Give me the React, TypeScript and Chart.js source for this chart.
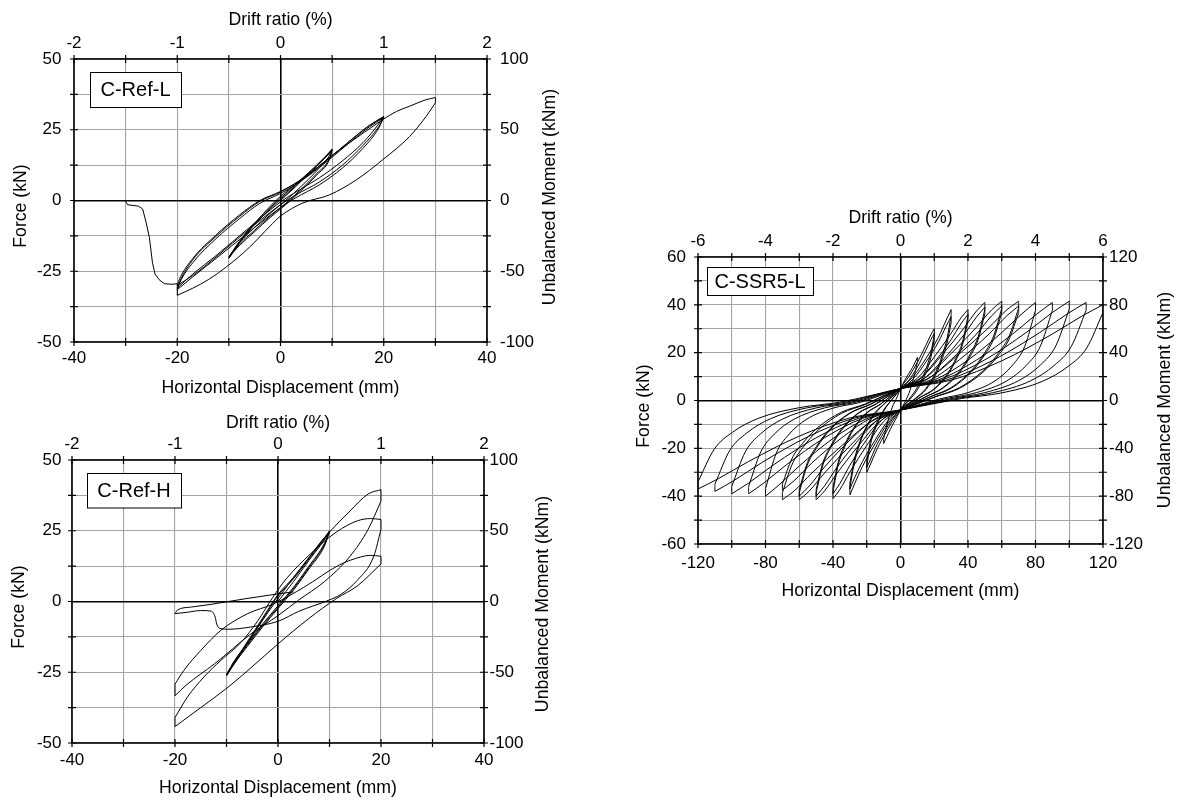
import React, { useEffect, useRef } from "react";
import { Chart, registerables } from "chart.js";

Chart.register(...registerables);

const FONT = '"Liberation Sans", Arial, Helvetica, sans-serif';
Chart.defaults.font.family = FONT;
Chart.defaults.color = "#000";

type Pt = [number, number];

// ---------------- tick labels ----------------
const refDispLabels = [-40, -20, 0, 20, 40];
const refDriftLabels = [-2, -1, 0, 1, 2];
const refForceLabels = [-50, -25, 0, 25, 50];
const refMomentLabels = [-100, -50, 0, 50, 100];
const ssrDispLabels = [-120, -80, -40, 0, 40, 80, 120];
const ssrDriftLabels = [-6, -4, -2, 0, 2, 4, 6];
const ssrForceLabels = [-60, -40, -20, 0, 20, 40, 60];
const ssrMomentLabels = [-120, -80, -40, 0, 40, 80, 120];

// ---------------- C-Ref-L (displacement mm, force kN) ----------------
const refL_c1: Pt[] = [[0,0],[3,5],[6,10.5],[8.5,15],[10,18.2],[9.5,16],[7,10.5],[4,5],[1,0],[-2,-4.5],[-5,-9.5],[-8,-15],[-10,-20]];
const refL_c2: Pt[] = [[-8,-14.5],[-5,-8],[-2,-2.5],[1,2.5],[4,7.5],[7,12.5],[10,18],[9.5,15],[7,9.5],[4,4],[1,-1],[-2,-5.5],[-5,-10.5],[-8,-15.5],[-10,-20.4]];
const refL_c3: Pt[] = [[-8,-15],[-5,-8.5],[-2,-3],[1,2],[4,7],[7,12],[10,17.6],[9.5,14.5],[7,9],[4,3.5],[1,-1.5],[-2,-6],[-5,-11],[-8,-16],[-10,-20]];
const refL_c4: Pt[] = [[-7,-12.5],[-4,-6],[0,1.5],[4.3,7.5],[9.8,15.5],[13.4,21],[17.2,26.5],[20,29.7],[19,27],[16,20.5],[12,14],[7.5,8],[3,3],[0,-0.5],[-6,-9.5],[-12.5,-19.5],[-17,-26],[-20,-31]];
const refL_c5: Pt[] = [[-19.5,-28.5],[-17,-21],[-12.5,-12.7],[-8,-5.7],[-4,-0.3],[0,3],[4.3,7.8],[9.8,15.5],[13.4,21],[17.2,26.5],[20,29.5],[19,25.5],[16,18.5],[12,11.5],[7.5,5.5],[3,1],[0,-2.5],[-6,-11],[-12.5,-20.5],[-17,-27],[-20,-31.5]];
const refL_c6: Pt[] = [[-19.5,-29],[-17,-22],[-12.5,-13.5],[-8,-6.5],[-4,-1],[0,2.5],[4.3,7.3],[9.8,15],[13.4,20.5],[17.2,26],[20,29.3],[19,26],[16,19.5],[12,12.5],[7.5,6.5],[3,2],[0,-1.5],[-6,-10],[-12.5,-20],[-17,-26.5],[-20,-30]];
const refL_c7: Pt[] = [[-19.5,-27.5],[-17,-20.5],[-12.5,-12.2],[-8,-5.2],[-4,0],[0,3.2],[5,8.5],[10,16],[15,22.5],[20,28.8],[22.5,31.5],[25,33.3],[28,35.5],[30,36.4],[30,34.5],[28.2,29.7],[25,22.6],[19.8,14.4],[14.7,7.3],[9.5,2],[4.3,-0.9],[0,-5.5],[-2,-9],[-6,-16.5],[-10.5,-23.5],[-14,-28],[-17,-31],[-20,-33.5]];
const refL_tail: Pt[] = [[-20,-33.5],[-20,-29.4],[-21,-29.6],[-22.5,-29.4],[-23.5,-28],[-24.3,-26],[-24.8,-22],[-25.4,-13],[-26,-8],[-26.7,-3],[-27.5,-2],[-29.6,-1.5],[-30,-0.3]];

// ---------------- C-Ref-H ----------------
const refH_c1: Pt[] = [[0,0],[3,7],[6,14.5],[8.5,20.5],[10,24.5],[9,20],[6,12],[3,4.5],[0,-2],[-3,-8.5],[-6,-15.5],[-8.5,-21.5],[-10,-26]];
const refH_c2: Pt[] = [[-8,-20.5],[-5,-12],[-2,-3.5],[0,2],[3,8],[6,15],[8.5,21],[10,25],[9,20.5],[6,12.5],[3,5],[0,-1.5],[-3,-8],[-6,-15],[-8.5,-21],[-10,-25.8]];
const refH_c3: Pt[] = [[-8,-20],[-5,-11.5],[-2,-3],[0,2.5],[3,8.5],[6,15.5],[8.5,21.5],[10,24.6],[9,19.5],[6,11.5],[3,4],[0,-2.5],[-3,-9],[-6,-16],[-8.5,-22],[-10,-26.2]];
const refH_c4: Pt[] = [[-6,-15],[-2,-4],[2,6],[6,15.5],[10,24.5],[14,32],[17.5,38],[20,39.5],[20,35.5],[17.5,25.5],[14,16],[9,7],[4,0.5],[0,-5],[-5.3,-11.5],[-12.3,-22],[-17.8,-29.5],[-20,-33.3]];
const refH_c5: Pt[] = [[-20,-29.2],[-18.3,-24.4],[-15,-17.3],[-11.1,-10.2],[-5.9,-4.3],[-0.8,-0.8],[5,5],[12,13],[16,15.7],[18,16.3],[20,16],[20,13.3],[15.4,5.5],[11.3,1],[6,-6],[0,-15],[-5.3,-23.5],[-9.5,-30],[-15,-37.5],[-20,-44.2]];
const refH_c6: Pt[] = [[-20,-41],[-17.6,-33.8],[-14.4,-26.7],[-11.1,-20.8],[-7.2,-14.5],[-4,-7],[-1,1.5],[1.6,8],[6.4,17],[11.3,24.5],[15.4,28.5],[18,29.3],[20,29],[20,25.5],[18.6,16],[15.4,7.5],[12.2,2.5],[9.9,0.5],[4,-3.5],[0,-7],[-5.3,-9],[-9.5,-9.8],[-11.3,-9.5],[-11.9,-8],[-12.2,-5.5],[-13,-3.4],[-15,-3.2],[-17.6,-3.8],[-20,-4.3]];
const refH_c7: Pt[] = [[-19.5,-3],[-17,-2],[-13,-1],[-6.6,0.9],[0,2.7],[3,3.4]];

// ---------------- C-SSR5-L ----------------
const ssr10: Pt[] = [[0,5],[3,9],[6,12.5],[8,15],[10,18],[10,16],[8,10],[5,3],[2,-1.5],[0,-4],[-3,-8],[-6,-12],[-8,-15],[-10,-18],[-10,-16],[-8,-10],[-5,-3],[-2,1.5]];
const ssr20a: Pt[] = [[0,5],[5,10],[10,16],[15,23],[18,27.5],[20,30],[20,27.5],[18,20],[15,13],[10,5.5],[5,0.5],[0,-4],[-5,-9],[-10,-15],[-15,-22],[-18,-27],[-20,-30],[-20,-27.5],[-18,-19],[-15,-12],[-10,-4.5],[-5,0.5]];
const ssr20b: Pt[] = [[0,4.5],[5,8.5],[10,14],[15,21],[18,25.5],[20,28],[20,25.5],[18,18],[15,11.5],[10,4.5],[5,0],[0,-3.5],[-5,-8],[-10,-13.5],[-15,-20],[-18,-25],[-20,-28],[-20,-25.5],[-18,-17.5],[-15,-11],[-10,-4],[-5,0.5]];
const ssr30a: Pt[] = [[0,5],[7.5,10],[15,17.5],[22.5,26.5],[27,33.5],[30,38],[30,35.5],[27.6,26],[25,19.5],[21,12],[15,5],[9,1],[0,-4],[-7.5,-9.5],[-15,-18],[-22.5,-27.5],[-27,-34.5],[-30,-39.5],[-30,-36.5],[-27.6,-27],[-25,-20],[-21,-12.5],[-15,-5.5],[-9,-1]];
const ssr30b: Pt[] = [[0,4.5],[7.5,9],[15,16],[22.5,24.5],[27,31],[30,35],[30,32.5],[27.6,24],[25,18],[21,11],[15,4.5],[9,0.8],[0,-3.5],[-7.5,-8.5],[-15,-16.5],[-22.5,-25.5],[-27,-32],[-30,-37],[-30,-34.5],[-27.6,-25.5],[-25,-19],[-21,-12],[-15,-5],[-9,-1]];
const ssr40a: Pt[] = [[0,5],[10,9.3],[20,18.2],[30,28.1],[36,34.7],[40,38],[40,35.3],[36.8,24.7],[33.2,18.2],[28,11.4],[20,4.9],[12,1.5],[0,-4],[-10,-8.8],[-20,-18.8],[-30,-29.9],[-36,-37.3],[-40,-41],[-40,-38.1],[-36.8,-26.7],[-33.2,-19.7],[-28,-12.3],[-20,-5.3],[-12,-1.6]];
const ssr40b: Pt[] = [[0,5],[10,8.1],[20,15.9],[30,25.5],[36,32.3],[40,36],[40,33.5],[36.8,23.4],[33.2,17.3],[28,10.8],[20,4.7],[12,1.4],[0,-4],[-10,-7.5],[-20,-16.3],[-30,-27.1],[-36,-34.8],[-40,-39],[-40,-36.3],[-36.8,-25.4],[-33.2,-18.7],[-28,-11.7],[-20,-5.1],[-12,-1.6]];
const ssr50a: Pt[] = [[0,5],[12.5,9.7],[25,19.4],[37.5,30.2],[45,37.4],[50,41],[50,38.1],[46,26.7],[41.5,19.7],[35,12.3],[25,5.3],[15,1.6],[0,-4],[-12.5,-8.9],[-25,-19],[-37.5,-30.3],[-45,-37.8],[-50,-41.5],[-50,-38.6],[-46,-27],[-41.5,-19.9],[-35,-12.5],[-25,-5.4],[-15,-1.7]];
const ssr50b: Pt[] = [[0,5],[12.5,8.4],[25,16.9],[37.5,27.4],[45,34.9],[50,39],[50,36.3],[46,25.4],[41.5,18.7],[35,11.7],[25,5.1],[15,1.6],[0,-4],[-12.5,-7.6],[-25,-16.6],[-37.5,-27.8],[-45,-35.7],[-50,-40],[-50,-37.2],[-46,-26],[-41.5,-19.2],[-35,-12],[-25,-5.2],[-15,-1.6]];
const ssr60a: Pt[] = [[0,5],[15,9.7],[30,19.6],[45,30.6],[54,37.9],[60,41.5],[60,38.6],[55.2,27],[49.8,19.9],[42,12.5],[30,5.4],[18,1.7],[0,-4],[-15,-8.9],[-30,-19],[-45,-30.3],[-54,-37.8],[-60,-41.5],[-60,-38.6],[-55.2,-27],[-49.8,-19.9],[-42,-12.5],[-30,-5.4],[-18,-1.7]];
const ssr60b: Pt[] = [[0,5],[15,8.5],[30,17.1],[45,27.8],[54,35.4],[60,39.5],[60,36.7],[55.2,25.7],[49.8,19],[42,11.9],[30,5.1],[18,1.6],[0,-4],[-15,-7.6],[-30,-16.6],[-45,-27.8],[-54,-35.7],[-60,-40],[-60,-37.2],[-55.2,-26],[-49.8,-19.2],[-42,-12],[-30,-5.2],[-18,-1.6]];
const ssr70a: Pt[] = [[0,5],[17.5,9.7],[35,19.6],[52.5,30.6],[63,37.9],[70,41.5],[70,38.6],[64.4,27],[58.1,19.9],[49,12.5],[35,5.4],[21,1.7],[0,-4],[-17.5,-8.9],[-35,-19],[-52.5,-30.3],[-63,-37.8],[-70,-41.5],[-70,-38.6],[-64.4,-27],[-58.1,-19.9],[-49,-12.5],[-35,-5.4],[-21,-1.7]];
const ssr70b: Pt[] = [[0,5],[17.5,8.5],[35,17.1],[52.5,27.8],[63,35.4],[70,39.5],[70,36.7],[64.4,25.7],[58.1,19],[49,11.9],[35,5.1],[21,1.6],[0,-4],[-17.5,-7.4],[-35,-15.7],[-52.5,-26.1],[-63,-33.5],[-70,-37.5],[-70,-34.9],[-64.4,-24.4],[-58.1,-18],[-49,-11.3],[-35,-4.9],[-21,-1.5]];
const ssr80: Pt[] = [[0,5],[20,8.6],[40,16.9],[60,28.4],[72,36.3],[80,41],[80,37.7],[73.6,22.6],[66.4,14.8],[56,8.2],[40,3.3],[24,0.8],[0,-4],[-20,-7.6],[-40,-15.9],[-60,-27.4],[-72,-35.3],[-80,-40],[-80,-36.8],[-73.6,-22],[-66.4,-14.4],[-56,-8],[-40,-3.2],[-24,-0.8]];
const ssr90: Pt[] = [[0,5],[22.5,8.6],[45,16.9],[67.5,28.4],[81,36.3],[90,41],[90,37.7],[82.8,22.6],[74.7,14.8],[63,8.2],[45,3.3],[27,0.8],[0,-4],[-22.5,-7.5],[-45,-15.6],[-67.5,-26.8],[-81,-34.5],[-90,-39],[-90,-35.9],[-82.8,-21.5],[-74.7,-14],[-63,-7.8],[-45,-3.1],[-27,-0.8]];
const ssr100: Pt[] = [[0,5],[25,8.7],[50,17],[75,28.7],[90,36.8],[100,41.5],[100,38.2],[92,22.8],[83,14.9],[70,8.3],[50,3.3],[30,0.8],[0,-4],[-25,-7.5],[-50,-15.6],[-75,-26.8],[-90,-34.5],[-100,-39],[-100,-35.9],[-92,-21.5],[-83,-14],[-70,-7.8],[-50,-3.1],[-30,-0.8]];
const ssr110: Pt[] = [[0,5],[27.5,8.6],[55,16.9],[82.5,28.4],[99,36.3],[110,41],[110,37.7],[101.2,22.6],[91.3,14.8],[77,8.2],[55,3.3],[33,0.8],[0,-4],[-27.5,-7.4],[-55,-15.2],[-82.5,-26.1],[-99,-33.6],[-110,-38],[-110,-35],[-101.2,-20.9],[-91.3,-13.7],[-77,-7.6],[-55,-3],[-33,-0.8]];
const ssr120: Pt[] = [[0,5],[30,8.5],[60,16.6],[90,27.8],[108,35.5],[120,40],[120,36.8],[110.4,22],[99.6,14.4],[84,8],[60,3.2],[36,0.8],[0,-4],[-30,-7.3],[-60,-14.9],[-90,-25.5],[-108,-32.7],[-120,-37],[-120,-34],[-110.4,-20.4],[-99.6,-13.3],[-84,-7.4],[-60,-3],[-36,-0.7],[0,5]];

// Split a continuous path into branches wherever the displacement reverses
function splitBranches(pts: Pt[]): Pt[][] {
  const segs: Pt[][] = [];
  let cur: Pt[] = [pts[0]];
  let prev = 0;
  for (let i = 1; i < pts.length; i++) {
    const dx = pts[i][0] - pts[i - 1][0];
    const s = dx > 0 ? 1 : dx < 0 ? -1 : 0;
    if (cur.length > 1 && s !== prev) {
      segs.push(cur);
      cur = [pts[i - 1]];
    }
    cur.push(pts[i]);
    prev = s;
  }
  if (cur.length > 1) segs.push(cur);
  return segs;
}

const framePlugin = {
  id: "frame",
  afterDraw(chart: any, _args: any, o: any) {
    const { ctx, chartArea: a, scales } = chart;
    const xs = scales.x;
    const ys = scales.y;
    ctx.save();
    ctx.strokeStyle = "#000";
    ctx.lineWidth = 1.2;
    ctx.beginPath();
    for (const t of xs.ticks) {
      const p = xs.getPixelForValue(t.value);
      ctx.moveTo(p, a.top - 4);
      ctx.lineTo(p, a.top + 4);
      ctx.moveTo(p, a.bottom - 4);
      ctx.lineTo(p, a.bottom + 4);
    }
    for (const t of ys.ticks) {
      const p = ys.getPixelForValue(t.value);
      ctx.moveTo(a.left - 4, p);
      ctx.lineTo(a.left + 4, p);
      ctx.moveTo(a.right - 4, p);
      ctx.lineTo(a.right + 4, p);
    }
    ctx.stroke();
    ctx.lineWidth = 1.6;
    ctx.strokeRect(a.left, a.top, a.right - a.left, a.bottom - a.top);

    // specimen label box
    const b = o.box;
    ctx.fillStyle = "#fff";
    ctx.fillRect(b.x, b.y, b.w, b.h);
    ctx.lineWidth = 1;
    ctx.strokeRect(b.x + 0.5, b.y + 0.5, b.w, b.h);
    ctx.fillStyle = "#000";
    ctx.font = `20px ${FONT}`;
    ctx.textAlign = "center";
    ctx.textBaseline = "middle";
    ctx.fillText(o.label, b.x + b.w / 2, b.y + b.h / 2 + 1);

    // vertical axis titles (both read bottom-to-top)
    ctx.font = `17.7px ${FONT}`;
    for (const tt of [o.leftTitle, o.rightTitle]) {
      ctx.save();
      ctx.translate(tt.x, tt.y);
      ctx.rotate(-Math.PI / 2);
      ctx.fillText(tt.text, 0, 0);
      ctx.restore();
    }
    ctx.restore();
  },
};

const gridColor = (c: any) => (c.tick && c.tick.value === 0 ? "#000" : "#a4a4a4");
const gridWidth = (c: any) => (c.tick && c.tick.value === 0 ? 1.6 : 1.1);

function makeConfig(s: any) {
  const datasets: any[] = [];
  for (const seg of splitBranches(s.path)) {
    datasets.push({
      data: seg.map(([x, y]) => ({ x, y })),
      showLine: true,
      borderColor: "#000",
      borderWidth: 1,
      pointRadius: 0,
      cubicInterpolationMode: "monotone",
      xAxisID: "x",
      yAxisID: "y",
    });
  }
  if (s.rough) {
    datasets.push({
      data: s.rough.map(([x, y]: Pt) => ({ x, y })),
      showLine: true,
      borderColor: "#000",
      borderWidth: 1,
      pointRadius: 0,
      tension: 0,
      xAxisID: "x",
      yAxisID: "y",
    });
  }
  const tickFont = { family: FONT, size: 17 };
  const titleFont = { family: FONT, size: 17.7 };
  const lab = (list: number[]) => (v: any) => (list.includes(Number(v)) ? String(Number(v)) : "");
  return {
    type: "scatter",
    data: { datasets },
    plugins: [framePlugin],
    options: {
      animation: false,
      responsive: false,
      maintainAspectRatio: false,
      events: [],
      layout: { padding: 0 },
      plugins: {
        legend: { display: false },
        tooltip: { enabled: false },
        frame: {
          box: s.box,
          label: s.label,
          leftTitle: { text: "Force (kN)", x: s.leftTitle[0], y: s.leftTitle[1] },
          rightTitle: { text: "Unbalanced Moment (kNm)", x: s.rightTitle[0], y: s.rightTitle[1] },
        },
      },
      scales: {
        x: {
          type: "linear",
          position: "bottom",
          min: s.x.min,
          max: s.x.max,
          afterFit: (sc: any) => { sc.height = s.h - s.area.b; },
          ticks: { stepSize: s.x.step, autoSkip: false, maxRotation: 0, padding: s.pad.b, color: "#000", font: tickFont, callback: lab(s.x.labels) },
          grid: { color: gridColor, lineWidth: gridWidth, drawTicks: false },
          border: { display: false },
          title: { display: true, text: "Horizontal Displacement (mm)", color: "#000", font: titleFont, padding: { top: 0, bottom: s.tpad.b } },
        },
        x2: {
          type: "linear",
          position: "top",
          min: s.d.min,
          max: s.d.max,
          afterFit: (sc: any) => { sc.height = s.area.t; },
          ticks: { stepSize: s.d.step, autoSkip: false, maxRotation: 0, padding: s.pad.t, color: "#000", font: tickFont, callback: lab(s.d.labels) },
          grid: { drawOnChartArea: false, drawTicks: false },
          border: { display: false },
          title: { display: true, text: "Drift ratio (%)", color: "#000", font: titleFont, padding: { top: s.tpad.t, bottom: 0 } },
        },
        y: {
          type: "linear",
          position: "left",
          min: s.y.min,
          max: s.y.max,
          afterFit: (sc: any) => { sc.width = s.area.l; },
          ticks: { stepSize: s.y.step, autoSkip: false, padding: s.pad.l, color: "#000", font: tickFont, callback: lab(s.y.labels) },
          grid: { color: gridColor, lineWidth: gridWidth, drawTicks: false },
          border: { display: false },
        },
        y2: {
          type: "linear",
          position: "right",
          min: s.m.min,
          max: s.m.max,
          afterFit: (sc: any) => { sc.width = s.w - s.area.r; },
          ticks: { stepSize: s.m.step, autoSkip: false, padding: s.pad.r, color: "#000", font: tickFont, callback: lab(s.m.labels) },
          grid: { drawOnChartArea: false, drawTicks: false },
          border: { display: false },
        },
      },
    },
  };
}

const panels = [
  {
    key: "refL",
    left: 0, top: 0, w: 580, h: 405,
    area: { l: 74, r: 487, t: 59, b: 342 },
    pad: { l: 12.5, r: 13, t: 5, b: 6 },
    tpad: { t: 9.5, b: 6.5 },
    leftTitle: [21, 206],
    rightTitle: [550, 197],
    box: { x: 90, y: 72, w: 91, h: 35 },
    label: "C-Ref-L",
    x: { min: -40, max: 40, step: 10, labels: refDispLabels },
    d: { min: -2, max: 2, step: 0.5, labels: refDriftLabels },
    y: { min: -50, max: 50, step: 12.5, labels: refForceLabels },
    m: { min: -100, max: 100, step: 25, labels: refMomentLabels },
    path: [...refL_c1, ...refL_c2, ...refL_c3, ...refL_c4, ...refL_c5, ...refL_c6, ...refL_c7],
    rough: refL_tail,
  },
  {
    key: "refH",
    left: 0, top: 400, w: 580, h: 405,
    area: { l: 72, r: 484, t: 60, b: 343 },
    pad: { l: 10.5, r: 5.5, t: 5, b: 6.8 },
    tpad: { t: 12.8, b: 6.5 },
    leftTitle: [19.6, 207],
    rightTitle: [543, 204],
    box: { x: 87, y: 73, w: 94, h: 34.5 },
    label: "C-Ref-H",
    x: { min: -40, max: 40, step: 10, labels: refDispLabels },
    d: { min: -2, max: 2, step: 0.5, labels: refDriftLabels },
    y: { min: -50, max: 50, step: 12.5, labels: refForceLabels },
    m: { min: -100, max: 100, step: 25, labels: refMomentLabels },
    path: [...refH_c1, ...refH_c2, ...refH_c3, ...refH_c4, ...refH_c5, ...refH_c6, ...refH_c7],
    rough: null,
  },
  {
    key: "ssr",
    left: 600, top: 195, w: 577, h: 415,
    area: { l: 98, r: 503, t: 62, b: 349 },
    pad: { l: 12, r: 6, t: 5, b: 8.8 },
    tpad: { t: 12.5, b: 7.8 },
    leftTitle: [44, 211],
    rightTitle: [565, 205],
    box: { x: 107, y: 72, w: 106, h: 28 },
    label: "C-SSR5-L",
    x: { min: -120, max: 120, step: 20, labels: ssrDispLabels },
    d: { min: -6, max: 6, step: 1, labels: ssrDriftLabels },
    y: { min: -60, max: 60, step: 10, labels: ssrForceLabels },
    m: { min: -120, max: 120, step: 20, labels: ssrMomentLabels },
    path: [...ssr10, ...ssr20a, ...ssr20b, ...ssr30a, ...ssr30b, ...ssr40a, ...ssr40b, ...ssr50a, ...ssr50b, ...ssr60a, ...ssr60b, ...ssr70a, ...ssr70b, ...ssr80, ...ssr90, ...ssr100, ...ssr110, ...ssr120],
    rough: null,
  },
];

function Panel({ s }: { s: any }) {
  const ref = useRef<HTMLCanvasElement>(null);
  useEffect(() => {
    const chart = new Chart(ref.current as HTMLCanvasElement, makeConfig(s) as any);
    return () => chart.destroy();
  }, []);
  return (
    <canvas
      ref={ref}
      width={s.w}
      height={s.h}
      style={{ position: "absolute", left: s.left, top: s.top, width: s.w, height: s.h }}
    />
  );
}

export default function App() {
  return (
    <div style={{ position: "absolute", left: 0, top: 0, width: 1177, height: 801, background: "#fff", overflow: "hidden" }}>
      {panels.map((p) => (
        <Panel key={p.key} s={p} />
      ))}
    </div>
  );
}
